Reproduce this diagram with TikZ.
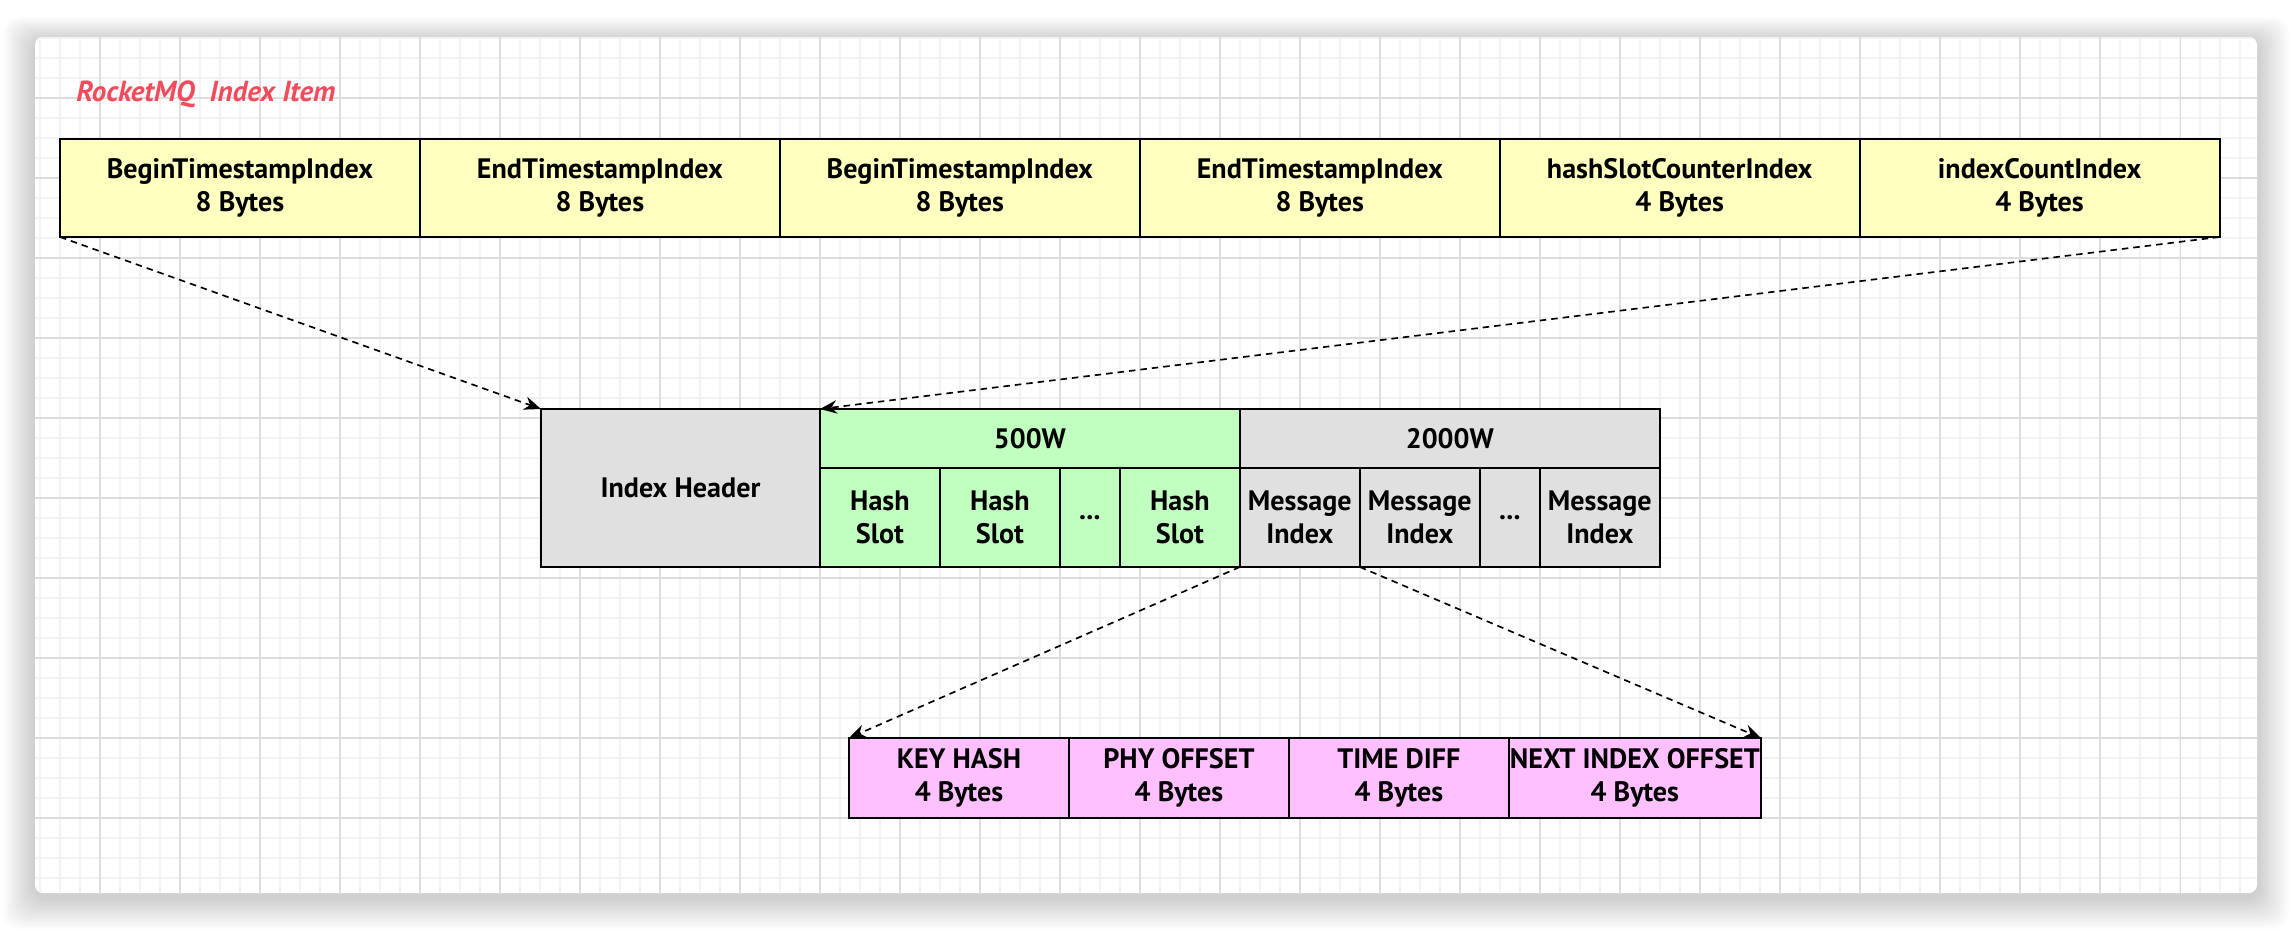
\documentclass[tikz,border=0pt]{standalone}
\usepackage{fontspec}
\setmainfont{PT Sans}
\usetikzlibrary{arrows.meta,positioning}
\definecolor{CellYellow}{HTML}{FFFFC0}
\definecolor{CellGreen}{HTML}{C0FFC0}
\definecolor{CellGray}{HTML}{E0E0E0}
\definecolor{CellPink}{HTML}{FFC0FF}
\definecolor{TitleRed}{HTML}{F24B5B}
\definecolor{GridMinor}{HTML}{F3F3F3}
\definecolor{GridMajor}{HTML}{DDDDDD}
\tikzset{
 cell/.style={draw=black, line width=1.1pt, outer sep=0pt, inner sep=0pt, align=center, font=\fontsize{16}{18.5}\selectfont\bfseries},
 yellowcell/.style={cell, fill=CellYellow, minimum width=7.2cm, minimum height=1.96cm},
 headcell/.style={cell, fill=CellGray, minimum width=5.58cm, minimum height=3.16cm},
 greencell/.style={cell, fill=CellGreen, minimum height=1.98cm},
 graycell/.style={cell, fill=CellGray, minimum height=1.98cm},
 pinkcell/.style={cell, fill=CellPink, minimum width=4.4cm, minimum height=1.6cm},
 link/.style={-{Stealth[length=0.34cm,width=0.27cm]}, line width=0.95pt, dash pattern=on 0.13cm off 0.1cm}
}

\begin{document}
\begin{tikzpicture}[x=0.02cm,y=-0.02cm]
\useasboundingbox (0,0) rectangle (2292,930);
% soft shadow, then card with grid
\foreach \s in {1,...,16}
  \fill[black, opacity=0.012, rounded corners=0.3cm] ({35-2*\s},{37-1.5*\s+4}) rectangle ({2257+2*\s},{893+2*\s+4});
\fill[white, rounded corners=0.16cm] (35,37) rectangle (2257,893);
\begin{scope}
\clip[rounded corners=0.16cm] (35,37) rectangle (2257,893);
\foreach \gx in {40,60,...,2240} \draw[GridMinor, line width=0.7pt] (\gx,37) -- (\gx,893);
\foreach \gy in {38,58,...,878} \draw[GridMinor, line width=0.7pt] (35,\gy) -- (2257,\gy);
\foreach \gx in {100,180,...,2220} \draw[GridMajor, line width=0.6pt] (\gx,37) -- (\gx,893);
\foreach \gy in {98,178,...,818} \draw[GridMajor, line width=0.6pt] (35,\gy) -- (2257,\gy);
\end{scope}
\node[font=\fontsize{16.5}{20}\selectfont\itshape\bfseries, text=TitleRed, anchor=base west, inner sep=0pt] (title) at (76,101) {RocketMQ\ \ Index Item};
% index item header fields
\node[yellowcell, anchor=north west] (begin1) at (60,139) {BeginTimestampIndex\\8 Bytes};
\node[yellowcell, right=0pt of begin1] (end1) {EndTimestampIndex\\8 Bytes};
\node[yellowcell, right=0pt of end1] (begin2) {BeginTimestampIndex\\8 Bytes};
\node[yellowcell, right=0pt of begin2] (end2) {EndTimestampIndex\\8 Bytes};
\node[yellowcell, right=0pt of end2] (slotcount) {hashSlotCounterIndex\\4 Bytes};
\node[yellowcell, right=0pt of slotcount] (indexcount) {indexCountIndex\\4 Bytes};
% index file layout
\node[headcell, anchor=north west] (header) at (541,409) {Index Header};
\node[greencell, minimum width=8.4cm, minimum height=1.18cm, anchor=north west] (w500) at (header.north east) {500W};
\node[greencell, minimum width=2.4cm, anchor=north west] (slot1) at (w500.south west) {Hash\\Slot};
\node[greencell, minimum width=2.4cm, right=0pt of slot1] (slot2) {Hash\\Slot};
\node[greencell, minimum width=1.2cm, right=0pt of slot2] (slotdots) {...};
\node[greencell, minimum width=2.4cm, right=0pt of slotdots] (slot3) {Hash\\Slot};
\node[graycell, minimum width=8.4cm, minimum height=1.18cm, anchor=north west] (w2000) at (w500.north east) {2000W};
\node[graycell, minimum width=2.4cm, anchor=north west] (msg1) at (w2000.south west) {Message\\Index};
\node[graycell, minimum width=2.4cm, right=0pt of msg1] (msg2) {Message\\Index};
\node[graycell, minimum width=1.2cm, right=0pt of msg2] (msgdots) {...};
\node[graycell, minimum width=2.4cm, right=0pt of msgdots] (msg3) {Message\\Index};
% message index fields
\node[pinkcell, anchor=north west] (keyhash) at (849,738) {KEY HASH\\4 Bytes};
\node[pinkcell, right=0pt of keyhash] (phyoffset) {PHY OFFSET\\4 Bytes};
\node[pinkcell, right=0pt of phyoffset] (timediff) {TIME DIFF\\4 Bytes};
\node[pinkcell, minimum width=5.04cm, right=0pt of timediff] (nextoffset) {NEXT INDEX OFFSET\\4 Bytes};
\draw[link] (begin1.south west) -- (header.north west);
\draw[link] (indexcount.south east) -- (w500.north west);
\draw[link] (msg1.south west) -- (keyhash.north west);
\draw[link] (msg2.south west) -- (nextoffset.north east);
\end{tikzpicture}
\end{document}
